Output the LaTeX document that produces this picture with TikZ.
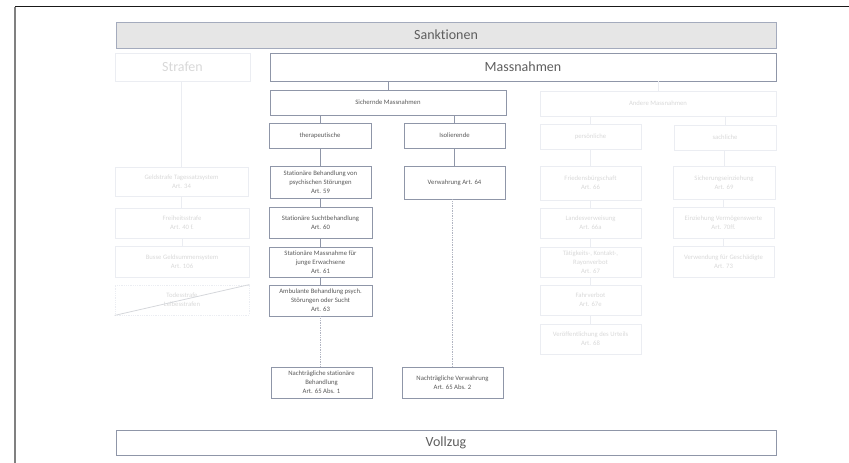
\documentclass[tikz,border=0pt]{standalone}
\usepackage{fontspec}
\setmainfont{Carlito}[Ligatures=NoCommon]
\definecolor{edge}{HTML}{8F96A8}
\definecolor{topedge}{HTML}{A4ABBD}
\definecolor{ink}{HTML}{585858}
\definecolor{bigink}{HTML}{5E5E5E}
\definecolor{pale}{HTML}{EBEDF2}
\definecolor{paleink}{HTML}{D8D8D8}
\definecolor{bandfill}{HTML}{E6E6E6}
\tikzset{
  base/.style={rectangle, draw, line width=0.8pt, align=center, inner sep=1pt},
  abox/.style={base, draw=edge, text=ink, font=\fontsize{6.7}{9}\selectfont},
  fbox/.style={base, draw=pale, text=paleink, font=\fontsize{6.7}{9}\selectfont},
  bigbox/.style={base, draw=edge, text=bigink, font=\fontsize{14}{16}\selectfont},
  link/.style={draw=edge, line width=0.8pt},
  flink/.style={draw=pale, line width=0.8pt},
  dlink/.style={draw=edge!70, line width=0.7pt, densely dotted},
  wh/.style 2 args={minimum width=#1pt, minimum height=#2pt},
}
\begin{document}
\begin{tikzpicture}[x=1pt, y=-1pt]
\useasboundingbox (0,0) rectangle (849,463);
% page frame
\coordinate (ftl) at (15,6.5);
\coordinate (ftr) at (849,6.5);
\coordinate (fbl) at (15,463);
\draw[black!90, line width=1.2pt] (ftl) -- (ftr);
\draw[black!50, line width=2pt] (ftl) -- (fbl);

% top band and the two main branches
\node[bigbox, draw=topedge, fill=bandfill, wh={660}{26}] (sank) at (446,35) {Sanktionen};
\node[bigbox, draw=pale, text=paleink, wh={135}{28}] (strafen) at (182.5,67) {Strafen};
\node[bigbox, wh={506}{28}] (mass) at (523,67) {Massnahmen};

% second level
\node[abox, wh={236}{25}] (sich) at (388,102.5) {Sichernde Massnahmen};
\node[fbox, wh={236}{25}] (andere) at (658,103.5) {Andere Massnahmen};

% third level
\node[abox, wh={102}{25}] (thera) at (320,135.5) {therapeutische};
\node[abox, wh={101}{25}] (isol) at (454.5,135.5) {Isolierende};
\node[fbox, wh={101}{25}] (pers) at (590.5,136.5) {persönliche};
\node[fbox, wh={102}{25}] (sach) at (725,137.5) {sachliche};

% therapeutic measures
\node[abox, wh={101}{32}] (a59) at (320.5,182) {Stationäre Behandlung von\\psychischen Störungen\\Art. 59};
\node[abox, wh={103}{31}] (a60) at (320.5,222.5) {Stationäre Suchtbehandlung\\Art. 60};
\node[abox, wh={103}{30}] (a61) at (320.5,262) {Stationäre Massnahme für\\junge Erwachsene\\Art. 61};
\node[abox, wh={103}{31}] (a63) at (320.5,300.5) {Ambulante Behandlung psych.\\Störungen oder Sucht\\Art. 63};
\node[abox, wh={101}{31}] (n65a) at (321.5,382.5) {Nachträgliche stationäre\\Behandlung\\Art. 65 Abs. 1};

% isolating measures
\node[abox, wh={101}{33}] (v64) at (454.5,182.5) {Verwahrung Art. 64};
\node[abox, wh={101}{31}] (n65b) at (452.5,382.5) {Nachträgliche Verwahrung\\Art. 65 Abs. 2};

% penalties
\node[fbox, wh={133}{29}] (geld) at (181.5,181.5) {Geldstrafe Tagessatzsystem\\Art. 34};
\node[fbox, wh={134}{30}] (frei) at (182,223) {Freiheitsstrafe\\Art. 40 f.};
\node[fbox, wh={134}{31}] (busse) at (182,261.5) {Busse Geldsummensystem\\Art. 106};
\node[fbox, densely dotted, wh={134}{30}] (tod) at (182,300) {Todesstrafe\\Leibesstrafen};
\draw[flink, draw=pale!80!gray] (tod.south west) -- (tod.north east);

% personal measures
\node[fbox, wh={101}{34}] (a66) at (590.5,183) {Friedensbürgschaft\\Art. 66};
\node[fbox, wh={101}{30}] (a66a) at (590.5,223) {Landesverweisung\\Art. 66a};
\node[fbox, wh={101}{30}] (a67) at (590.5,262) {Tätigkeits-, Kontakt-,\\Rayonverbot\\Art. 67};
\node[fbox, wh={101}{30}] (a67e) at (590.5,300) {Fahrverbot\\Art. 67e};
\node[fbox, wh={101}{30}] (a68) at (590.5,339) {Veröffentlichung des Urteils\\Art. 68};

% property measures
\node[fbox, wh={102}{33}] (a69) at (724,182.5) {Sicherungseinziehung\\Art. 69};
\node[fbox, wh={101}{31}] (a70) at (723.5,222.5) {Einziehung Vermögenswerte\\Art. 70ff.};
\node[fbox, wh={101}{31}] (a73) at (723.5,261.5) {Verwendung für Geschädigte\\Art. 73};

% bottom band
\node[bigbox, wh={660}{25}] (vollzug) at (446,442.5) {Vollzug};

% connectors: active branch
\draw[link] (mass.south -| sich) -- (sich.north);
\draw[link] (sich.south -| thera) -- (thera.north);
\draw[link] (sich.south -| isol) -- (isol.north);
\draw[link] (thera.south) -- (thera.south |- a59.north);
\draw[link] (a59.south -| a60) -- (a60.north);
\draw[link] (a60.south) -- (a61.north);
\draw[link] (a61.south) -- (a63.north);
\draw[link] (isol.south) -- (isol.south |- v64.north);
\draw[dlink] (a63.south) -- (a63.south |- n65a.north);
\draw[dlink] (v64.south -| n65b) -- (n65b.north);

% connectors: faded branches
\draw[flink] (strafen.south -| geld) -- (geld.north);
\draw[flink] (geld.south) -- (geld.south |- frei.north);
\draw[flink] (frei.south) -- (busse.north);
\draw[flink] (mass.south -| andere) -- (andere.north);
\draw[flink] (andere.south -| pers) -- (pers.north);
\draw[flink] (andere.south -| sach) -- (sach.north);
\draw[flink] (pers.south) -- (a66.north);
\draw[flink] (a66.south) -- (a66a.north);
\draw[flink] (a66a.south) -- (a67.north);
\draw[flink] (a67.south) -- (a67e.north);
\draw[flink] (a67e.south) -- (a68.north);
\draw[flink] (sach.south -| a69) -- (a69.north);
\draw[flink] (a69.south -| a70) -- (a70.north);
\draw[flink] (a70.south) -- (a73.north);
\end{tikzpicture}
\end{document}
